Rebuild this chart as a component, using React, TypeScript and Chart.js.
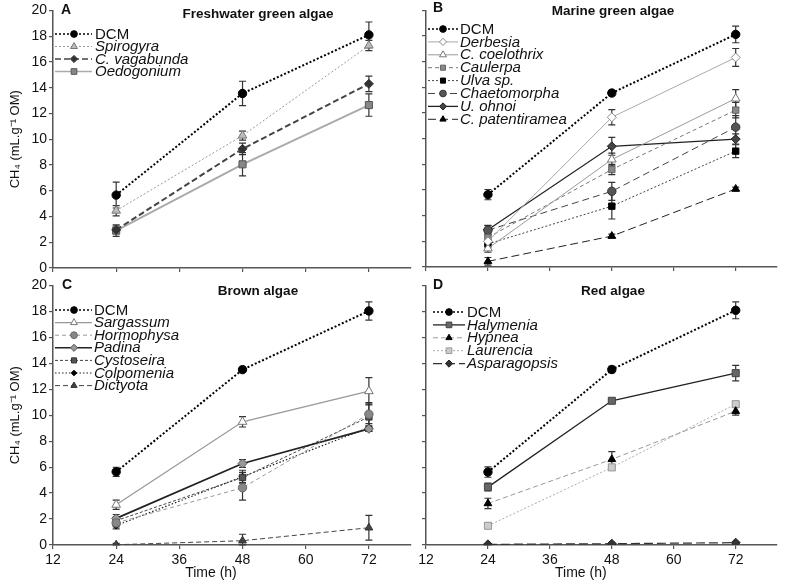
import React, { useEffect, useRef } from 'react';
import { Chart, registerables } from 'chart.js';
Chart.register(...registerables);

// ---------- DATA ----------
const times = [24, 48, 72];
const xTickValues = [12, 24, 36, 48, 60, 72];

// Panel A – Freshwater green algae
const A_DCM = [5.66, 13.55, 18.1];
const A_DCM_err = [1.0, 0.95, 1.0];
const A_Spirogyra = [4.45, 10.28, 17.27];
const A_Spirogyra_err = [0.4, 0.35, 0.4];
const A_Cvagabunda = [2.96, 9.25, 14.3];
const A_Cvagabunda_err = [0.3, 0.45, 0.6];
const A_Oedogonium = [2.9, 8.05, 12.65];
const A_Oedogonium_err = [0.45, 0.9, 0.87];

// Panel B – Marine green algae
const B_DCM = [5.64, 13.56, 18.13];
const B_DCM_err = [0.4, 0.2, 0.65];
const B_Derbesia = [2.0, 11.67, 16.33];
const B_Derbesia_err = [0.3, 0.6, 0.7];
const B_Ccoelothrix = [1.45, 8.38, 13.13];
const B_Ccoelothrix_err = [0.3, 0.5, 0.7];
const B_Caulerpa = [2.3, 7.6, 12.23];
const B_Caulerpa_err = [0.3, 0.4, 0.6];
const B_Ulva = [1.8, 4.74, 9.03];
const B_Ulva_err = [0.3, 1.0, 0.5];
const B_Chaetomorpha = [2.87, 5.9, 10.9];
const B_Chaetomorpha_err = [0.35, 0.7, 0.9];
const B_Uohnoi = [2.9, 9.41, 9.97];
const B_Uohnoi_err = [0.35, 0.7, 0.4];
const B_Cpatentiramea = [0.44, 2.41, 6.08];
const B_Cpatentiramea_err = [0.3, 0.15, 0.15];

// Panel C – Brown algae
const C_DCM = [5.64, 13.51, 18.03];
const C_DCM_err = [0.35, 0.2, 0.7];
const C_Sargassum = [3.1, 9.49, 11.85];
const C_Sargassum_err = [0.35, 0.4, 1.05];
const C_Hormophysa = [1.7, 4.41, 10.08];
const C_Hormophysa_err = [0.3, 0.95, 0.9];
const C_Padina = [2.05, 6.28, 8.95];
const C_Padina_err = [0.3, 0.3, 0.2];
const C_Cystoseira = [1.87, 5.2, 9.87];
const C_Cystoseira_err = [0.3, 0.4, 1.0];
const C_Colpomenia = [1.5, 5.26, 9.05];
const C_Colpomenia_err = [0.25, 0.5, 0.3];
const C_Dictyota = [0.02, 0.33, 1.33];
const C_Dictyota_err = [0.1, 0.5, 0.95];

// Panel D – Red algae
const D_DCM = [5.62, 13.52, 18.08];
const D_DCM_err = [0.4, 0.25, 0.65];
const D_Halymenia = [4.46, 11.11, 13.24];
const D_Halymenia_err = [0.3, 0.15, 0.6];
const D_Hypnea = [3.2, 6.6, 10.31];
const D_Hypnea_err = [0.4, 0.6, 0.3];
const D_Laurencia = [1.48, 5.98, 10.85];
const D_Laurencia_err = [0.2, 0.2, 0.2];
const D_Asparagopsis = [0.05, 0.1, 0.18];
const D_Asparagopsis_err = [0.05, 0.05, 0.05];

const FONT = '"Liberation Sans", Arial, Helvetica, sans-serif';

type SeriesStyle = {
  color: string; width: number; dash: number[];
  pt: string; r: number; fill: string; stroke: string; italic: boolean;
};

function ser(label: string, vals: number[], errs: number[], s: SeriesStyle) {
  return {
    label,
    data: times.map((t, i) => ({ x: t, y: vals[i] })),
    errors: errs,
    italic: s.italic,
    borderColor: s.color,
    borderWidth: s.width,
    borderDash: s.dash,
    pointStyle: s.pt,
    pointRadius: s.r,
    pointBackgroundColor: s.fill,
    pointBorderColor: s.stroke,
    pointBorderWidth: 1,
    tension: 0,
    fill: false,
  };
}

const dcmStyle: SeriesStyle = { color: '#000', width: 2, dash: [2, 2], pt: 'circle', r: 4.2, fill: '#000', stroke: '#000', italic: false };

const panels = [
  {
    key: 'A', left: 0, top: 0, w: 420, h: 280, padTop: 9, padRight: 9, yW: 53, xH: 12,
    showYLabels: true, showXLabels: false,
    letter: { x: 61, y: 10 }, title: { text: 'Freshwater green algae', x: 258, y: 14 },
    legend: { x0: 55, x1: 92, mx: 74, tx: 95, y0: 34, dy: 12.5 },
    datasets: [
      ser('DCM', A_DCM, A_DCM_err, dcmStyle),
      ser('Spirogyra', A_Spirogyra, A_Spirogyra_err, { color: '#999', width: 1, dash: [2, 2], pt: 'triangle', r: 5, fill: '#bbb', stroke: '#777', italic: true }),
      ser('C. vagabunda', A_Cvagabunda, A_Cvagabunda_err, { color: '#444', width: 2, dash: [6, 3], pt: 'rectRot', r: 4.5, fill: '#333', stroke: '#333', italic: true }),
      ser('Oedogonium', A_Oedogonium, A_Oedogonium_err, { color: '#aaa', width: 2, dash: [], pt: 'rect', r: 5, fill: '#888', stroke: '#555', italic: true }),
    ],
  },
  {
    key: 'B', left: 400, top: 0, w: 386, h: 280, padTop: 8, padRight: 9, yW: 26, xH: 13,
    showYLabels: false, showXLabels: false,
    letter: { x: 33, y: 8 }, title: { text: 'Marine green algae', x: 213, y: 11 },
    legend: { x0: 28, x1: 58, mx: 43, tx: 60, y0: 29, dy: 12.9 },
    datasets: [
      ser('DCM', B_DCM, B_DCM_err, dcmStyle),
      ser('Derbesia', B_Derbesia, B_Derbesia_err, { color: '#aaa', width: 1, dash: [], pt: 'rectRot', r: 4.5, fill: '#fff', stroke: '#888', italic: true }),
      ser('C. coelothrix', B_Ccoelothrix, B_Ccoelothrix_err, { color: '#999', width: 1, dash: [], pt: 'triangle', r: 5, fill: '#fff', stroke: '#777', italic: true }),
      ser('Caulerpa', B_Caulerpa, B_Caulerpa_err, { color: '#777', width: 1, dash: [4, 3], pt: 'rect', r: 4.5, fill: '#888', stroke: '#666', italic: true }),
      ser('Ulva sp.', B_Ulva, B_Ulva_err, { color: '#444', width: 1, dash: [2, 2], pt: 'rect', r: 4.5, fill: '#000', stroke: '#000', italic: true }),
      ser('Chaetomorpha', B_Chaetomorpha, B_Chaetomorpha_err, { color: '#444', width: 1, dash: [7, 4], pt: 'circle', r: 4.2, fill: '#555', stroke: '#333', italic: true }),
      ser('U. ohnoi', B_Uohnoi, B_Uohnoi_err, { color: '#222', width: 1.3, dash: [], pt: 'rectRot', r: 4.5, fill: '#444', stroke: '#222', italic: true }),
      ser('C. patentiramea', B_Cpatentiramea, B_Cpatentiramea_err, { color: '#222', width: 1, dash: [8, 4], pt: 'triangle', r: 4.5, fill: '#000', stroke: '#000', italic: true }),
    ],
  },
  {
    key: 'C', left: 0, top: 275, w: 420, h: 309, padTop: 9, padRight: 9, yW: 53, xH: 39,
    showYLabels: true, showXLabels: true,
    letter: { x: 62, y: 10 }, title: { text: 'Brown algae', x: 258, y: 16 },
    legend: { x0: 55, x1: 92, mx: 74, tx: 94, y0: 35, dy: 12.6 },
    datasets: [
      ser('DCM', C_DCM, C_DCM_err, dcmStyle),
      ser('Sargassum', C_Sargassum, C_Sargassum_err, { color: '#999', width: 1.3, dash: [], pt: 'triangle', r: 5, fill: '#fff', stroke: '#777', italic: true }),
      ser('Hormophysa', C_Hormophysa, C_Hormophysa_err, { color: '#999', width: 1, dash: [4, 3], pt: 'circle', r: 4.2, fill: '#888', stroke: '#666', italic: true }),
      ser('Padina', C_Padina, C_Padina_err, { color: '#222', width: 1.8, dash: [], pt: 'rectRot', r: 4.5, fill: '#999', stroke: '#555', italic: true }),
      ser('Cystoseira', C_Cystoseira, C_Cystoseira_err, { color: '#444', width: 1, dash: [3, 2], pt: 'rect', r: 4.5, fill: '#555', stroke: '#333', italic: true }),
      ser('Colpomenia', C_Colpomenia, C_Colpomenia_err, { color: '#222', width: 1.2, dash: [1.5, 2], pt: 'rectRot', r: 3.5, fill: '#000', stroke: '#000', italic: true }),
      ser('Dictyota', C_Dictyota, C_Dictyota_err, { color: '#444', width: 1, dash: [5, 3], pt: 'triangle', r: 4.5, fill: '#444', stroke: '#333', italic: true }),
    ],
  },
  {
    key: 'D', left: 400, top: 275, w: 386, h: 309, padTop: 10, padRight: 9, yW: 26, xH: 39,
    showYLabels: false, showXLabels: true,
    letter: { x: 33, y: 10 }, title: { text: 'Red algae', x: 213, y: 16 },
    legend: { x0: 33, x1: 65, mx: 49, tx: 67, y0: 37, dy: 12.9 },
    datasets: [
      ser('DCM', D_DCM, D_DCM_err, dcmStyle),
      ser('Halymenia', D_Halymenia, D_Halymenia_err, { color: '#222', width: 1.3, dash: [], pt: 'rect', r: 5, fill: '#666', stroke: '#444', italic: true }),
      ser('Hypnea', D_Hypnea, D_Hypnea_err, { color: '#999', width: 1, dash: [5, 3], pt: 'triangle', r: 4.5, fill: '#000', stroke: '#000', italic: true }),
      ser('Laurencia', D_Laurencia, D_Laurencia_err, { color: '#aaa', width: 1, dash: [2, 2], pt: 'rect', r: 5, fill: '#ccc', stroke: '#999', italic: true }),
      ser('Asparagopsis', D_Asparagopsis, D_Asparagopsis_err, { color: '#333', width: 1.2, dash: [9, 4], pt: 'rectRot', r: 4.5, fill: '#333', stroke: '#222', italic: true }),
    ],
  },
];

function drawMarker(ctx: CanvasRenderingContext2D, style: string, r: number, x: number, y: number, fill: string, stroke: string) {
  ctx.save();
  ctx.setLineDash([]);
  ctx.beginPath();
  if (style === 'circle') {
    ctx.arc(x, y, r, 0, Math.PI * 2);
  } else if (style === 'rect') {
    const s = r * Math.SQRT1_2;
    ctx.rect(x - s, y - s, 2 * s, 2 * s);
  } else if (style === 'rectRot') {
    ctx.moveTo(x, y - r);
    ctx.lineTo(x + r, y);
    ctx.lineTo(x, y + r);
    ctx.lineTo(x - r, y);
    ctx.closePath();
  } else if (style === 'triangle') {
    const a = Math.PI / 2;
    ctx.moveTo(x + Math.cos(-a) * r, y + Math.sin(-a) * r);
    ctx.lineTo(x + Math.cos(-a + 2 * Math.PI / 3) * r, y + Math.sin(-a + 2 * Math.PI / 3) * r);
    ctx.lineTo(x + Math.cos(-a + 4 * Math.PI / 3) * r, y + Math.sin(-a + 4 * Math.PI / 3) * r);
    ctx.closePath();
  }
  ctx.fillStyle = fill;
  ctx.fill();
  ctx.lineWidth = 1;
  ctx.strokeStyle = stroke;
  ctx.stroke();
  ctx.restore();
}

function Panel({ cfg }: { cfg: any }) {
  const ref = useRef<HTMLCanvasElement | null>(null);
  useEffect(() => {
    if (!ref.current) return;
    const errorBars = {
      id: 'errorBars',
      beforeDatasetsDraw(chart: any) {
        const ctx = chart.ctx;
        const ys = chart.scales.y;
        ctx.save();
        ctx.strokeStyle = '#333';
        ctx.lineWidth = 1.2;
        ctx.setLineDash([]);
        chart.data.datasets.forEach((ds: any, i: number) => {
          const meta = chart.getDatasetMeta(i);
          meta.data.forEach((pt: any, j: number) => {
            const v = ds.data[j].y;
            const e = ds.errors[j];
            const yTop = ys.getPixelForValue(v + e);
            const yBot = ys.getPixelForValue(Math.max(0, v - e));
            ctx.beginPath();
            ctx.moveTo(pt.x, yTop);
            ctx.lineTo(pt.x, yBot);
            ctx.moveTo(pt.x - 3.5, yTop);
            ctx.lineTo(pt.x + 3.5, yTop);
            ctx.moveTo(pt.x - 3.5, yBot);
            ctx.lineTo(pt.x + 3.5, yBot);
            ctx.stroke();
          });
        });
        ctx.restore();
      },
    };
    const decorations = {
      id: 'decorations',
      afterDraw(chart: any) {
        const ctx = chart.ctx;
        ctx.save();
        ctx.fillStyle = '#111';
        ctx.textBaseline = 'middle';
        // panel letter
        ctx.font = `bold 14px ${FONT}`;
        ctx.textAlign = 'left';
        ctx.fillText(cfg.key, cfg.letter.x, cfg.letter.y);
        // title
        ctx.font = `bold 13.5px ${FONT}`;
        ctx.textAlign = 'center';
        ctx.fillText(cfg.title.text, cfg.title.x, cfg.title.y);
        // legend
        const L = cfg.legend;
        chart.data.datasets.forEach((ds: any, i: number) => {
          const y = L.y0 + i * L.dy;
          ctx.save();
          ctx.strokeStyle = ds.borderColor;
          ctx.lineWidth = Math.min(ds.borderWidth, 1.5);
          ctx.setLineDash(ds.borderDash || []);
          ctx.beginPath();
          ctx.moveTo(L.x0, y);
          ctx.lineTo(L.x1, y);
          ctx.stroke();
          ctx.restore();
          drawMarker(ctx, ds.pointStyle, ds.pointRadius * 0.8, L.mx, y, ds.pointBackgroundColor, ds.pointBorderColor);
          ctx.fillStyle = '#111';
          ctx.textAlign = 'left';
          ctx.font = `${ds.italic ? 'italic ' : ''}15px ${FONT}`;
          ctx.fillText(ds.label, L.tx, y + 0.5);
        });
        // x-axis title
        if (cfg.showXLabels) {
          const xs = chart.scales.x;
          ctx.font = `14px ${FONT}`;
          ctx.textAlign = 'center';
          ctx.fillStyle = '#111';
          ctx.fillText('Time (h)', xs.getPixelForValue(42), 298);
        }
        ctx.restore();
      },
    };
    const chart = new Chart(ref.current, {
      type: 'line',
      data: { datasets: cfg.datasets as any },
      options: {
        responsive: false,
        animation: false,
        devicePixelRatio: 1,
        layout: { padding: { left: 0, top: cfg.padTop, right: cfg.padRight, bottom: 0 } },
        plugins: { legend: { display: false }, tooltip: { enabled: false }, title: { display: false } },
        scales: {
          x: {
            type: 'linear',
            min: 12,
            max: 80,
            afterBuildTicks: (s: any) => { s.ticks = xTickValues.map((v) => ({ value: v })); },
            afterFit: (s: any) => { s.height = cfg.xH; },
            grid: { drawOnChartArea: false, drawTicks: true, tickLength: 4, color: '#555', lineWidth: 1.2 },
            border: { display: true, color: '#555', width: 1.5 },
            ticks: {
              autoSkip: false, maxRotation: 0, padding: 3, color: '#111',
              font: { family: FONT, size: 14 },
              callback: (v: any) => (cfg.showXLabels ? String(v) : ''),
            },
          },
          y: {
            type: 'linear',
            min: 0,
            max: 20,
            afterFit: (s: any) => { s.width = cfg.yW; },
            grid: { drawOnChartArea: false, drawTicks: true, tickLength: 4, color: '#555', lineWidth: 1.2 },
            border: { display: true, color: '#555', width: 1.5 },
            ticks: {
              stepSize: 2, padding: 2, color: '#111',
              font: { family: FONT, size: 14 },
              callback: (v: any) => (cfg.showYLabels ? String(v) : ''),
            },
            title: {
              display: cfg.showYLabels,
              text: 'CH₄ (mL.g⁻¹ OM)',
              color: '#111',
              font: { family: FONT, size: 13 },
              padding: { top: 8, bottom: 0 },
            },
          },
        },
      } as any,
      plugins: [errorBars, decorations],
    });
    return () => chart.destroy();
  }, []);
  return (
    <canvas
      ref={ref}
      width={cfg.w}
      height={cfg.h}
      style={{ position: 'absolute', left: cfg.left, top: cfg.top, width: cfg.w, height: cfg.h }}
    />
  );
}

export default function App() {
  return (
    <div style={{ position: 'fixed', left: 0, top: 0, width: 786, height: 584, background: '#fff', overflow: 'hidden' }}>
      {panels.map((p) => (
        <Panel key={p.key} cfg={p} />
      ))}
    </div>
  );
}
